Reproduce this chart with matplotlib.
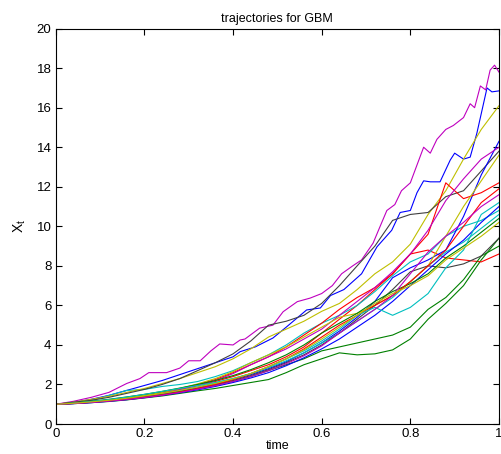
import numpy as np
import matplotlib
matplotlib.use("Agg")
import matplotlib.pyplot as plt

plt.rcParams['font.family'] = ['Liberation Sans', 'DejaVu Sans']

# common time grid for most paths
t = [0, 0.04, 0.08, 0.12, 0.16, 0.2, 0.24, 0.28, 0.32, 0.36, 0.4, 0.44, 0.48,
     0.52, 0.56, 0.6, 0.64, 0.68, 0.72, 0.76, 0.8, 0.84, 0.88, 0.92, 0.96, 1.0]

# top magenta path, read more densely
t_m1 = [0, 0.04, 0.08, 0.12, 0.16, 0.19, 0.21, 0.25, 0.28, 0.3, 0.326, 0.35, 0.37,
        0.4, 0.416, 0.427, 0.46, 0.49, 0.513, 0.545, 0.574, 0.6, 0.624, 0.645,
        0.67, 0.69, 0.716, 0.73, 0.747, 0.765, 0.78, 0.8, 0.82, 0.83, 0.845,
        0.86, 0.88, 0.897, 0.92, 0.935, 0.945, 0.958, 0.97, 0.98, 0.99, 1.0]
m1 = [1, 1.15, 1.35, 1.6, 2.05, 2.3, 2.6, 2.6, 2.83, 3.2, 3.2, 3.7, 4.05,
      4.0, 4.25, 4.3, 4.85, 5.0, 5.68, 6.19, 6.37, 6.6, 7.0, 7.6,
      8.0, 8.3, 9.15, 9.9, 10.8, 11.1, 11.8, 12.2, 13.4, 14.0, 13.7,
      14.4, 14.9, 15.1, 15.5, 16.2, 16.0, 17.1, 16.9, 17.9, 18.15, 17.8]

# top blue path
t_b1 = [0, 0.04, 0.08, 0.12, 0.16, 0.2, 0.24, 0.28, 0.32, 0.36, 0.4, 0.416,
        0.45, 0.49, 0.52, 0.566, 0.597, 0.62, 0.65, 0.69, 0.725, 0.758, 0.777,
        0.8, 0.815, 0.83, 0.845, 0.867, 0.89, 0.9, 0.92, 0.935, 0.95, 0.96,
        0.973, 0.984, 1.0]
b1 = [1, 1.1, 1.25, 1.45, 1.7, 1.95, 2.2, 2.5, 2.8, 3.1, 3.4, 3.66,
      3.9, 4.35, 4.9, 5.77, 5.87, 6.5, 6.8, 7.6, 8.97, 9.8, 10.7,
      10.8, 11.7, 12.3, 12.25, 12.25, 13.35, 13.7, 13.4, 13.5, 14.7, 15.7,
      17.0, 16.8, 16.85]

g1 = [1, 1.03, 1.08, 1.14, 1.22, 1.32, 1.42, 1.55, 1.68, 1.8, 1.95, 2.1, 2.25,
      2.6, 3.0, 3.3, 3.6, 3.5, 3.55, 3.75, 4.3, 5.3, 6.1, 7.0, 8.3, 9.4]
r1 = [1, 1.05, 1.12, 1.2, 1.3, 1.42, 1.57, 1.75, 1.95, 2.15, 2.4, 2.7, 3.0,
      3.4, 3.9, 4.6, 5.3, 6.0, 6.8, 7.6, 8.6, 8.8, 8.4, 8.3, 8.2, 8.6]
c1 = [1, 1.08, 1.18, 1.45, 1.7, 1.75, 1.9, 2.0, 2.15, 2.4, 2.7, 3.1, 3.5,
      4.0, 4.6, 5.1, 5.5, 6.0, 6.7, 7.5, 8.2, 8.6, 9.5, 10.0, 10.3, 10.8]
y1 = [1, 1.1, 1.25, 1.4, 1.6, 1.8, 2.05, 2.3, 2.6, 2.9, 3.3, 3.8, 4.4,
      4.8, 5.2, 5.7, 6.1, 6.8, 7.6, 8.2, 9.1, 10.6, 11.8, 13.4, 14.9, 16.1]
k1 = [1, 1.1, 1.2, 1.35, 1.55, 1.75, 2.0, 2.3, 2.7, 3.1, 3.55, 4.2, 5.0,
      5.2, 5.5, 6.1, 7.0, 8.0, 9.0, 10.3, 10.6, 10.7, 11.5, 11.8, 12.8, 13.8]
b2 = [1, 1.05, 1.11, 1.19, 1.28, 1.39, 1.52, 1.67, 1.84, 2.03, 2.25, 2.5, 2.8,
      3.15, 3.6, 4.1, 4.7, 5.4, 6.2, 7.4, 7.9, 8.3, 8.8, 10.5, 12.6, 14.3]
g2 = [1, 1.05, 1.12, 1.2, 1.3, 1.4, 1.52, 1.65, 1.8, 1.95, 2.15, 2.4, 2.7,
      3.0, 3.3, 3.7, 3.9, 4.1, 4.3, 4.5, 4.9, 5.8, 6.4, 7.3, 8.5, 9.0]
r2 = [1, 1.06, 1.13, 1.22, 1.33, 1.46, 1.6, 1.78, 2.0, 2.25, 2.6, 3.0, 3.4,
      3.9, 4.5, 5.1, 5.8, 6.4, 6.9, 7.6, 8.6, 9.6, 12.2, 11.4, 11.7, 12.2]
c2 = [1, 1.04, 1.1, 1.18, 1.28, 1.4, 1.54, 1.7, 1.88, 2.08, 2.3, 2.55, 2.85,
      3.2, 3.6, 4.1, 4.6, 5.2, 5.8, 6.4, 7.2, 8.0, 8.7, 9.2, 9.9, 10.6]
m2 = [1, 1.05, 1.12, 1.2, 1.3, 1.42, 1.56, 1.74, 1.95, 2.2, 2.55, 3.0, 3.4,
      3.8, 4.3, 4.8, 5.5, 6.2, 6.9, 7.7, 8.6, 9.8, 11.3, 12.4, 13.4, 14.0]
y2 = [1, 1.06, 1.13, 1.22, 1.33, 1.45, 1.6, 1.8, 2.03, 2.3, 2.65, 3.1, 3.5,
      3.9, 4.4, 4.9, 5.4, 5.6, 6.0, 6.5, 7.2, 8.0, 9.5, 11.0, 12.3, 13.6]
k2 = [1, 1.04, 1.1, 1.18, 1.27, 1.38, 1.5, 1.64, 1.8, 1.98, 2.2, 2.45, 2.75,
      3.1, 3.5, 4.0, 4.6, 5.3, 6.0, 6.8, 7.7, 8.0, 7.9, 8.1, 8.5, 9.4]
b3 = [1, 1.03, 1.08, 1.15, 1.23, 1.33, 1.45, 1.58, 1.73, 1.9, 2.1, 2.33, 2.6,
      2.95, 3.35, 3.8, 4.3, 4.9, 5.5, 6.2, 7.0, 7.8, 8.6, 9.3, 10.2, 11.0]
g3 = [1, 1.07, 1.15, 1.25, 1.37, 1.5, 1.65, 1.82, 2.0, 2.2, 2.45, 2.75, 3.1,
      3.5, 4.0, 4.6, 5.1, 5.6, 6.2, 6.7, 7.1, 7.6, 8.4, 9.0, 9.7, 10.4]
r3 = [1, 1.04, 1.1, 1.17, 1.25, 1.35, 1.47, 1.62, 1.8, 2.0, 2.25, 2.55, 2.9,
      3.3, 3.8, 4.4, 5.0, 5.5, 6.0, 6.5, 7.2, 8.0, 8.8, 10.0, 11.2, 11.9]
c3 = [1, 1.06, 1.14, 1.24, 1.36, 1.5, 1.65, 1.8, 1.95, 2.1, 2.3, 2.55, 2.9,
      3.3, 3.7, 4.2, 4.8, 5.5, 5.9, 5.5, 5.9, 6.6, 7.9, 8.8, 10.6, 11.2]
m3 = [1, 1.04, 1.09, 1.16, 1.24, 1.34, 1.46, 1.6, 1.76, 1.94, 2.15, 2.4, 2.7,
      3.05, 3.45, 3.95, 4.6, 5.2, 5.8, 6.5, 7.6, 8.7, 9.5, 10.2, 11.0, 11.6]
y3 = [1, 1.05, 1.12, 1.2, 1.3, 1.42, 1.55, 1.7, 1.87, 2.05, 2.28, 2.55, 2.9,
      3.3, 3.75, 4.3, 4.9, 5.5, 6.1, 6.6, 7.0, 7.5, 8.3, 8.9, 9.5, 10.2]

# old matlab line colour order
blue = (0, 0, 1)
green = (0, 0.5, 0)
red = (1, 0, 0)
cyan = (0, 0.75, 0.75)
magenta = (0.75, 0, 0.75)
yellow = (0.75, 0.75, 0)
gray = (0.25, 0.25, 0.25)

paths = [(t_b1, b1, blue), (t, g1, green), (t, r1, red), (t, c1, cyan),
         (t_m1, m1, magenta), (t, y1, yellow), (t, k1, gray),
         (t, b2, blue), (t, g2, green), (t, r2, red), (t, c2, cyan),
         (t, m2, magenta), (t, y2, yellow), (t, k2, gray),
         (t, b3, blue), (t, g3, green), (t, r3, red), (t, c3, cyan),
         (t, m3, magenta), (t, y3, yellow)]

fig = plt.figure(figsize=(5.02, 4.54), dpi=100)
ax = fig.add_axes([0.111, 0.066, 0.883, 0.871])
for tt, xx, col in paths:
    ax.plot(tt, xx, color=col, linewidth=0.8)

ax.set_xlim(0, 1)
ax.set_ylim(0, 20)
ax.set_xticks([0, 0.2, 0.4, 0.6, 0.8, 1])
ax.set_xticklabels(['0', '0.2', '0.4', '0.6', '0.8', '1'])
ax.set_yticks(range(0, 21, 2))
ax.tick_params(direction='in', top=True, right=True, length=4, labelsize=9.5, pad=3)
for s in ax.spines.values():
    s.set_linewidth(0.8)
ax.set_title('trajectories for GBM', fontsize=9, pad=5)
ax.set_xlabel('time', fontsize=9, labelpad=0)
ax.set_ylabel('$\\mathregular{X_t}$', fontsize=10, labelpad=6)

fig.savefig('out.png', dpi=100)
